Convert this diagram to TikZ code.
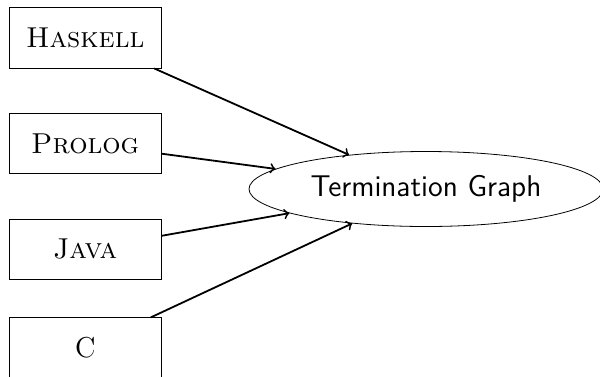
\documentclass[tikz,border=0pt]{standalone}
\usepackage{fontspec}
\usetikzlibrary{shapes.geometric}
\tikzset{
  lang/.style={draw, line width=0.4pt, minimum width=75.8pt, minimum height=30.2pt,
    inner sep=0pt, font=\fontsize{14.4}{17}\selectfont},
  target/.style={draw, ellipse, line width=0.4pt, minimum width=177pt, minimum height=37.5pt,
    inner sep=0pt, font=\fontsize{15}{18}\selectfont\sffamily},
  feed/.style={->, line width=0.9pt}
}
\begin{document}
\begin{tikzpicture}[x=0.5pt, y=-0.5pt]
  \useasboundingbox (0,0) rectangle (600,376);
  \node[lang] (haskell) at (85.2,37.8) {\textsc{Haskell}};
  \node[lang] (prolog) at (85.2,143.5) {\textsc{Prolog}};
  \node[lang] (java) at (85.2,249.3) {\textsc{Java}};
  \node[lang] (c) at (85.2,348) {C};
  \node[target] (tg) at (426,189) {Termination Graph};
  \draw[feed] (haskell) -- (tg);
  \draw[feed] (prolog) -- (tg);
  \draw[feed] (java) -- (tg);
  \draw[feed] (c) -- (tg);
\end{tikzpicture}
\end{document}
